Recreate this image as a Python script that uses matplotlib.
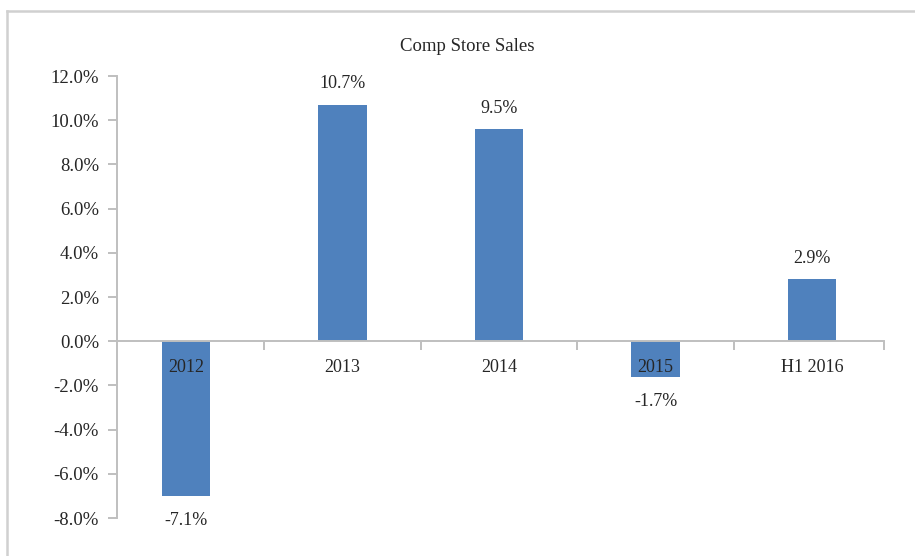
import matplotlib
matplotlib.use("Agg")
import matplotlib.pyplot as plt
from matplotlib.lines import Line2D
from matplotlib.ticker import FuncFormatter

plt.rcParams["font.family"] = ["Liberation Serif", "DejaVu Serif"]

categories = ["2012", "2013", "2014", "2015", "H1 2016"]
comp_sales = [-7.0, 10.7, 9.6, -1.6, 2.8]
value_labels = ["-7.1%", "10.7%", "9.5%", "-1.7%", "2.9%"]
y_ticks = [-8, -6, -4, -2, 0, 2, 4, 6, 8, 10, 12]

bar_color = "#4F81BD"
axis_color = "#BFBFBF"
text_color = "#262626"

fig = plt.figure(figsize=(9.15, 5.56), dpi=100)
ax = fig.add_axes([0.1279, 0.0683, 0.8383, 0.7950])

x = list(range(len(categories)))
# bars sit under the axis so the category labels print on top of them
ax.bar(x, comp_sales, width=0.31, color=bar_color, zorder=1)

for xi, val, lab in zip(x, comp_sales, value_labels):
    offset = 15 if val >= 0 else -18
    ax.annotate(lab, (xi, val), xytext=(0, offset), textcoords="offset points",
                ha="center", va="center", fontsize=13, color=text_color)

ax.set_xlim(-0.44, 4.46)
ax.set_ylim(-8, 12)
ax.set_yticks(y_ticks)
ax.yaxis.set_major_formatter(FuncFormatter(lambda v, _: f"{v:.1f}%"))

ax.set_xticks(x)
ax.set_xticklabels(categories)
ax.set_xticks([0.5, 1.5, 2.5, 3.5, 4.46], minor=True)

for side in ["top", "right"]:
    ax.spines[side].set_visible(False)
ax.spines["bottom"].set_position(("data", 0))
for side in ["left", "bottom"]:
    ax.spines[side].set_color(axis_color)
    ax.spines[side].set_linewidth(1.4)

ax.tick_params(axis="x", which="major", length=0, pad=13, labelsize=13, labelcolor=text_color)
ax.tick_params(axis="x", which="minor", length=6.5, width=1.4, color=axis_color, direction="out")
ax.tick_params(axis="y", length=6.5, width=1.4, color=axis_color, pad=6.5, labelsize=13.5,
               labelcolor=text_color)

fig.text(0.511, 1 - 46.5 / 556, "Comp Store Sales", ha="center", va="center", fontsize=13.5,
         color=text_color)

# outer chart border (only top and left are visible in the crop)
fig.add_artist(Line2D([7 / 915, 1], [1 - 11 / 556] * 2, color="#D0D0D0", lw=1.8, transform=fig.transFigure))
fig.add_artist(Line2D([7 / 915] * 2, [0, 1 - 11 / 556], color="#D0D0D0", lw=1.8, transform=fig.transFigure))

fig.savefig("out.png", dpi=100)
